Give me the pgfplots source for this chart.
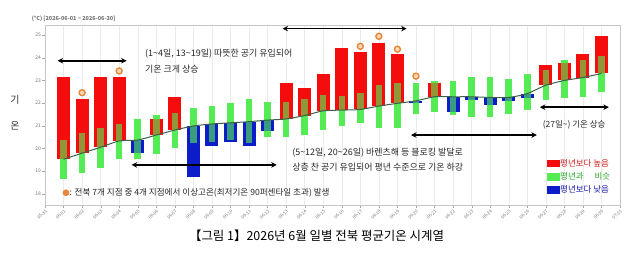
\documentclass[border=0pt]{standalone}
\usepackage{pgfplots}
\pgfplotsset{compat=1.18}
\usepackage{pgfplotstable}
\usepackage{fontspec}
\setmainfont{Noto Sans CJK KR}
\newfontfamily\symfont{DejaVu Sans}
\usetikzlibrary{arrows.meta}

\definecolor{barred}{RGB}{245,12,12}
\definecolor{barblue}{RGB}{12,28,200}
\definecolor{bargreen}{RGB}{85,235,85}
\definecolor{normline}{RGB}{60,95,75}
\definecolor{ringcol}{RGB}{230,135,60}
\definecolor{ringfill}{RGB}{250,215,180}
\definecolor{legred}{RGB}{205,30,30}
\definecolor{leggreen}{RGB}{40,170,40}
\definecolor{legblue}{RGB}{25,25,170}
\definecolor{ticktext}{RGB}{115,115,115}

% day, normal, observed mean, lower and upper bound of the "similar" band
\pgfplotstableread{
d  n     o     glo   ghi
1  19.52 23.16 18.64 20.37
2  19.79 22.16 18.91 20.69
3  20.05 23.16 19.13 20.89
4  20.33 23.16 19.52 21.08
5  20.37 19.81 19.52 21.28
6  20.59 21.28 19.76 21.47
7  20.81 22.28 20.00 21.57
8  20.99 18.73 20.23 21.77
9  21.08 20.11 20.30 21.87
10 21.13 20.30 20.37 21.99
11 21.18 20.11 20.23 22.16
12 21.25 20.78 20.52 22.06
13 21.30 22.90 20.52 22.06
14 21.45 22.65 20.59 22.16
15 21.66 23.28 20.81 22.35
16 21.69 24.45 21.00 22.30
17 21.72 24.26 21.10 22.46
18 21.87 24.66 20.89 22.79
19 21.99 24.16 20.89 22.87
20 22.10 22.00 21.52 22.87
21 22.28 22.88 21.62 22.98
22 22.28 21.62 21.47 22.98
23 22.28 22.15 21.40 23.16
24 22.25 21.91 21.40 23.16
25 22.25 22.09 21.52 23.06
26 22.42 22.21 21.69 23.28
27 22.79 23.68 22.13 23.46
28 23.00 23.78 22.21 23.89
29 23.13 24.16 22.28 23.89
30 23.31 24.97 22.50 24.07
}\daily

% days with unusually high minimum temperature (marker height)
\pgfplotstableread{
d  c
2  22.46
4  23.42
17 24.51
18 24.95
19 24.38
20 23.19
}\hotdays

\begin{document}
\begin{tikzpicture}
\useasboundingbox (-45bp,-59bp) rectangle (595bp,205bp);
\begin{axis}[
  at={(0,0)}, anchor=south west,
  scale only axis, width=575bp, height=180bp,
  xmin=0, xmax=31, ymin=17.5, ymax=25.45,
  clip=false,
  axis line style={draw=black!22},
  xtick={0,...,31},
  xticklabels={05-31,06-01,06-02,06-03,06-04,06-05,06-06,06-07,06-08,06-09,06-10,06-11,06-12,06-13,06-14,06-15,06-16,06-17,06-18,06-19,06-20,06-21,06-22,06-23,06-24,06-25,06-26,06-27,06-28,06-29,06-30,07-01},
  ytick={18,...,25},
  tick align=outside, major tick length=2.5bp,
  tick style={draw=black!35},
  xtick pos=bottom, ytick pos=left,
  xmajorgrids, major grid style={draw=black!8},
  /pgf/number format/assume math mode=true,
  xticklabel style={font=\fontsize{4.5}{5}\selectfont, text=ticktext, rotate=45, anchor=north east, inner sep=1bp},
  yticklabel style={font=\fontsize{5}{6}\selectfont, text=ticktext, inner sep=1.5bp},
  legend image code/.code={\fill[#1] (0bp,-3.2bp) rectangle (12bp,3.4bp);},
  legend style={at={(0.985,0.055)}, anchor=south east, draw=none, fill=none,
    font=\fontsize{8.5}{9}\selectfont, row sep=2.6bp, inner sep=0pt,
    nodes={inner sep=1bp}},
  legend cell align=left,
]

% band of "similar to normal", solid underlay
\addplot[forget plot, draw=none, mark=none,
  error bars/.cd, y dir=plus, y explicit, error mark=none,
  error bar style={draw=bargreen, line width=6.5bp, line cap=butt}]
  table[x=d, y=glo, y error plus expr={\thisrow{ghi}-\thisrow{glo}}] {\daily};

% departures above normal
\addplot[forget plot, draw=none, mark=none,
  error bars/.cd, y dir=plus, y explicit, error mark=none,
  error bar style={draw=barred, line width=13bp, line cap=butt}]
  table[x=d, y=n, y error plus expr={max(\thisrow{o}-\thisrow{n},0)}] {\daily};

% departures below normal
\addplot[forget plot, draw=none, mark=none,
  error bars/.cd, y dir=plus, y explicit, error mark=none,
  error bar style={draw=barblue, line width=13bp, line cap=butt}]
  table[x=d, y=o, y error plus expr={max(\thisrow{n}-\thisrow{o},0)}] {\daily};

% band of "similar to normal", translucent overlay on the departures
\addplot[forget plot, draw=none, mark=none,
  error bars/.cd, y dir=plus, y explicit, error mark=none,
  error bar style={draw=bargreen, line width=6.5bp, line cap=butt, draw opacity=0.62}]
  table[x=d, y=glo, y error plus expr={\thisrow{ghi}-\thisrow{glo}}] {\daily};

% normal (climatology)
\addplot[forget plot, smooth, tension=0.4, draw=normline, line width=1bp, mark=none]
  table[x=d, y=n] {\daily};

% high-minimum-temperature days
\addplot[forget plot, only marks, mark=*, mark size=3bp,
  mark options={draw=ringcol, fill=ringfill, line width=1.4bp}]
  table[x=d, y=c] {\hotdays};

\addlegendimage{barred}
\addlegendentry{\textcolor{legred}{평년보다 높음}}
\addlegendimage{bargreen}
\addlegendentry{\textcolor{leggreen}{평년과\hspace{1.3em}비슷}}
\addlegendimage{barblue}
\addlegendentry{\textcolor{legblue}{평년보다 낮음}}

% period arrows
\tikzset{period/.style={{Stealth[length=5.5bp,width=5.5bp]}-{Stealth[length=5.5bp,width=5.5bp]}, line width=1.5bp, draw=black}}
\draw[period] (axis cs:0.68,23.87) -- (axis cs:4.40,23.87);
\draw[period] (axis cs:12.81,25.29) -- (axis cs:19.50,25.29);
\draw[period] (axis cs:4.67,19.27) -- (axis cs:12.49,19.27);
\draw[period] (axis cs:19.73,20.59) -- (axis cs:26.52,20.59);
\draw[period] (axis cs:26.68,21.82) -- (axis cs:30.40,21.82);

% annotations
\node[anchor=west, align=left, inner sep=0pt, font=\fontsize{9}{16}\selectfont, text=black!85]
  at (axis cs:5.39,23.84) {(1\textasciitilde4일, 13\textasciitilde19일) 따뜻한 공기 유입되어\\기온 크게 상승};
\node[anchor=west, align=left, inner sep=0pt, font=\fontsize{9}{14.5}\selectfont, text=black!85]
  at (axis cs:13.32,19.50) {(5\textasciitilde12일, 20\textasciitilde26일) 바렌츠해 등 블로킹 발달로\\상층 찬 공기 유입되어 평년 수준으로 기온 하강};
\node[anchor=west, inner sep=0pt, font=\fontsize{8.5}{10}\selectfont, text=black!85]
  at (axis cs:26.83,21.03) {(27일\textasciitilde) 기온 상승};
\node[anchor=west, inner sep=0pt, font=\fontsize{8.6}{10}\selectfont, text=black!85]
  at (axis cs:0.92,18.03) {{\symfont\textcolor{ringcol}{●}}: 전북 7개 지점 중 4개 지점에서 이상고온(최저기온 90퍼센타일 초과) 발생};

% header, y label, caption
\node[anchor=west, inner sep=0pt, font=\fontsize{5.5}{6}\selectfont\bfseries, text=ticktext]
  at (axis cs:-0.72,25.72) {(°C) [2026-06-01 \textasciitilde{} 2026-06-30]};
\node[align=center, inner sep=0pt, font=\fontsize{10}{26}\selectfont, text=black!80]
  at (axis cs:-1.62,21.56) {기\\온};
\node[inner sep=0pt, font=\fontsize{12.5}{14}\selectfont, text=black]
  at (axis cs:14.64,16.14) {【그림 1】2026년 6월 일별 전북 평균기온 시계열};
\end{axis}
\end{tikzpicture}
\end{document}
